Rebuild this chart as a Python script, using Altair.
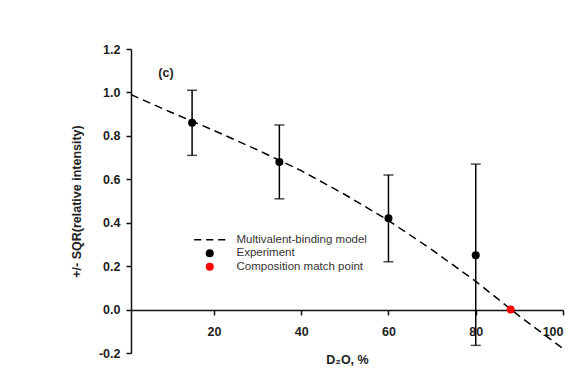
import altair as alt
import pandas as pd

# Experimental data
exp_x = [15, 35, 60, 80]
exp_y = [0.86, 0.68, 0.42, 0.25]
exp_lo = [0.71, 0.51, 0.22, -0.165]
exp_hi = [1.01, 0.85, 0.62, 0.67]

# Composition match point
match_x = [88]
match_y = [0.0]

# Model curve
model_x = [1, 10, 20, 30, 40, 50, 60, 70, 80, 90, 100]
model_y = [0.99, 0.91, 0.825, 0.735, 0.64, 0.53, 0.41, 0.275, 0.13, -0.03, -0.18]

series_names = ["Multivalent-binding model", "Experiment", "Composition match point"]

FONT = "Liberation Sans"

exp_df = pd.DataFrame({"x": exp_x, "y": exp_y, "lo": exp_lo, "hi": exp_hi,
                       "series": ["Experiment"] * len(exp_x)})
match_df = pd.DataFrame({"x": match_x, "y": match_y,
                         "series": ["Composition match point"] * len(match_x)})
pts_df = pd.concat([exp_df[["x", "y", "series"]], match_df], ignore_index=True)
model_df = pd.DataFrame({"x": model_x, "y": model_y})

xscale = alt.Scale(domain=[1, 100], nice=False, zero=False)
yscale = alt.Scale(domain=[-0.2, 1.2], nice=False, zero=False)

xaxis = alt.Axis(values=[20, 40, 60, 80, 100], title="D₂O, %", offset=-43,
                 grid=False, labelFont=FONT, labelFontSize=12.5, labelFontWeight="bold",
                 labelColor="#222", titleFont=FONT, titleFontSize=12.5, titleFontWeight="bold",
                 titleColor="#222", domainColor="#111", domainWidth=1.5, tickColor="#111",
                 tickWidth=1.5, tickSize=5, labelPadding=10, titlePadding=16)
yaxis = alt.Axis(values=[-0.2, 0, 0.2, 0.4, 0.6, 0.8, 1.0, 1.2],
                 labelExpr="datum.value < 0 ? '-' + format(-datum.value, '.1f') : format(datum.value, '.1f')",
                 title="+/- SQR(relative intensity)", grid=False, labelFont=FONT,
                 labelFontSize=12.5, labelFontWeight="bold", labelColor="#222",
                 titleFont=FONT, titleFontSize=12.5, titleFontWeight="bold", titleColor="#222",
                 domainColor="#111", domainWidth=1.5, tickColor="#111", tickWidth=1.5,
                 tickSize=5, labelPadding=6, titlePadding=15)

line = alt.Chart(model_df).mark_line(color="black", strokeDash=[8, 5], strokeWidth=1.5).encode(
    x=alt.X("x:Q", scale=xscale, axis=xaxis),
    y=alt.Y("y:Q", scale=yscale, axis=yaxis),
)

err = alt.Chart(exp_df).mark_rule(color="black", strokeWidth=1.5).encode(
    x="x:Q", y="lo:Q", y2="hi:Q")
cap_lo = alt.Chart(exp_df).mark_tick(color="black", orient="horizontal", size=10, thickness=1.5).encode(
    x="x:Q", y="lo:Q")
cap_hi = alt.Chart(exp_df).mark_tick(color="black", orient="horizontal", size=10, thickness=1.5).encode(
    x="x:Q", y="hi:Q")

# dashed-line legend symbol (unit = 4 px at size 64)
dash_path = ("M-3.9,-0.19H-2.1V0.19H-3.9Z M-0.9,-0.19H0.9V0.19H-0.9Z "
             "M2.1,-0.19H3.9V0.19H2.1Z")

legend = alt.Legend(title=None, orient="none", legendX=73, legendY=185, padding=0,
                    labelFont=FONT, labelFontSize=11.5, labelColor="#333", labelOffset=21,
                    rowPadding=0.5, symbolSize=64)

pts = alt.Chart(pts_df).mark_point(filled=True, opacity=1, size=64).encode(
    x="x:Q", y="y:Q",
    color=alt.Color("series:N", scale=alt.Scale(domain=series_names,
                                                range=["black", "black", "#ff0000"]),
                    legend=legend, sort=series_names),
    shape=alt.Shape("series:N", scale=alt.Scale(domain=series_names,
                                                range=[dash_path, "circle", "circle"]),
                    legend=legend, sort=series_names),
)

label = alt.Chart(pd.DataFrame({"t": ["(c)"]})).mark_text(
    font=FONT, fontSize=12.5, fontWeight="bold", color="#222").encode(
    x=alt.datum(9), y=alt.datum(1.09), text="t:N")

chart = alt.layer(line, err, cap_lo, cap_hi, pts, label).properties(
    width=432, height=304, autosize="none",
    padding={"left": 131, "top": 49, "right": 16, "bottom": 17},
    background="white",
).configure_view(stroke=None)

chart.save("out.html", embed_options={"renderer": "svg", "actions": False})
